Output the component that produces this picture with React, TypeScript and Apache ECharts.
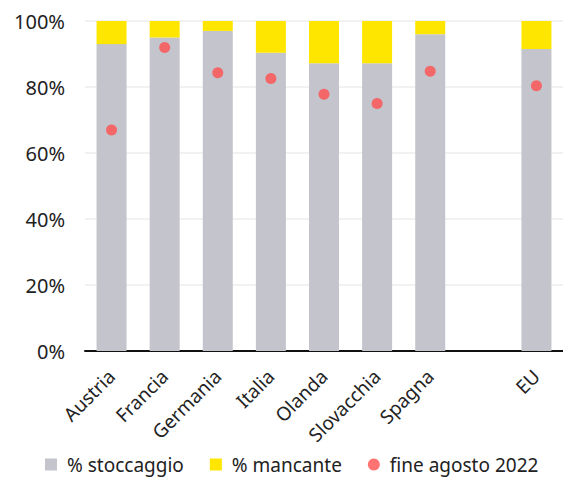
import React, { useEffect, useRef } from "react";
import * as echarts from "echarts";

const categories = ["Austria", "Francia", "Germania", "Italia", "Olanda", "Slovacchia", "Spagna", "", "EU"];
const stoccaggio: (number | string)[] = [93, 95, 97, 90.4, 87.2, 87.2, 96, "-", 91.5];
const mancante: (number | string)[] = [7, 5, 3, 9.6, 12.8, 12.8, 4, "-", 8.5];
const fineAgosto2022: (number | string)[] = [67, 92, 84.3, 82.6, 77.8, 75, 84.8, "-", 80.4];
const yTicks = [0, 20, 40, 60, 80, 100];

const FONT = "Noto Sans";

export default function App() {
  const ref = useRef<HTMLDivElement>(null);
  useEffect(() => {
    const chart = echarts.init(ref.current!, null, { renderer: "svg" });
    chart.setOption({
      animation: false,
      textStyle: { fontFamily: FONT },
      grid: { left: 85, top: 21, width: 480, height: 330, containLabel: false },
      legend: {
        bottom: 3,
        left: 45,
        padding: 0,
        width: 518,
        itemWidth: 12,
        itemHeight: 12,
        itemGap: 26,
        textStyle: { fontSize: 19, color: "#222", fontFamily: FONT, padding: [0, 0, 0, 5] },
        data: [
          { name: "% stoccaggio", icon: "rect" },
          { name: "% mancante", icon: "rect" },
          { name: "fine agosto 2022", icon: "circle" },
        ],
      },
      xAxis: {
        type: "category",
        data: categories,
        axisLine: { lineStyle: { color: "#111", width: 2 } },
        axisTick: { show: false },
        axisLabel: { rotate: 45, fontSize: 19, color: "#222", interval: 0, margin: 22 },
      },
      yAxis: {
        type: "value",
        min: yTicks[0],
        max: yTicks[yTicks.length - 1],
        interval: 20,
        axisLine: { show: false },
        axisTick: { show: false },
        splitLine: { lineStyle: { color: "#eeeeee", width: 1.5 } },
        axisLabel: { formatter: "{value}%", fontSize: 20, color: "#222", margin: 20 },
      },
      series: [
        {
          name: "% stoccaggio",
          type: "bar",
          stack: "tot",
          data: stoccaggio,
          barWidth: 30,
          itemStyle: { color: "#C4C4CC" },
        },
        {
          name: "% mancante",
          type: "bar",
          stack: "tot",
          data: mancante,
          barWidth: 30,
          itemStyle: { color: "#FFE600" },
        },
        {
          name: "fine agosto 2022",
          type: "scatter",
          data: fineAgosto2022,
          symbolSize: 11,
          itemStyle: { color: "#FF5050" },
          z: 5,
        },
      ],
    });
    return () => chart.dispose();
  }, []);
  return <div ref={ref} style={{ width: 563, height: 477, position: "absolute", left: 0, top: 0 }} />;
}
